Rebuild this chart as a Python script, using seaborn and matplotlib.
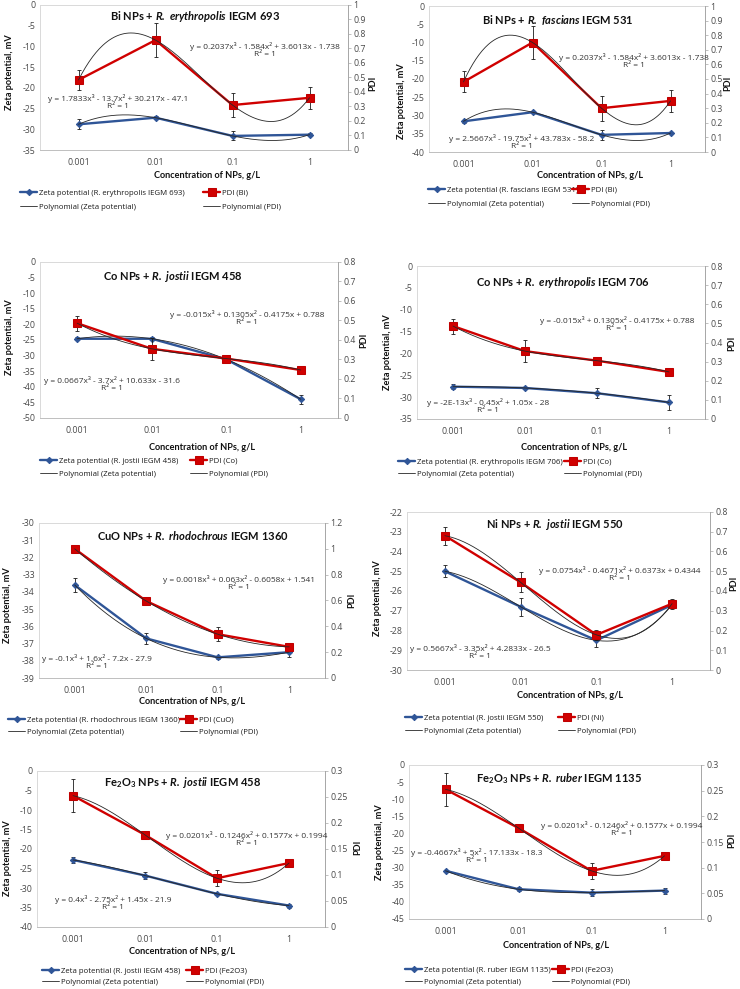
import numpy as np
import matplotlib
matplotlib.use("Agg")
import matplotlib.pyplot as plt
import seaborn as sns

sns.set_theme(style="white")
plt.rcParams['font.family'] = ['Lato', 'DejaVu Sans']
plt.rcParams['mathtext.fontset'] = 'custom'
plt.rcParams['mathtext.rm'] = 'Lato'
plt.rcParams['mathtext.it'] = 'Lato:italic'
plt.rcParams['mathtext.bf'] = 'Lato:bold'
HAS_BFIT = 'mathtext.bfit' in plt.rcParams
if HAS_BFIT:
    plt.rcParams['mathtext.bfit'] = 'Lato:italic:bold'
BFIT = r'\mathbfit' if HAS_BFIT else r'\mathit'
SMALL_FONT = ['Open Sans', 'DejaVu Sans']

# ---------------- data ----------------
conc_labels = ["0.001", "0.01", "0.1", "1"]

bi1_zeta = [-28.8, -27.2, -31.6, -31.3]
bi1_zeta_err = [1.2, 0.3, 1.1, 0.3]
bi1_pdi = [0.483, 0.758, 0.310, 0.360]
bi1_pdi_err = [0.07, 0.115, 0.085, 0.075]

bi2_zeta = [-31.6, -29.1, -35.3, -34.8]
bi2_zeta_err = [0.5, 0.3, 1.4, 0.2]
bi2_pdi = [0.48, 0.75, 0.30, 0.35]
bi2_pdi_err = [0.072, 0.11, 0.085, 0.075]

co1_zeta = [-24.6, -24.6, -31.2, -44.0]
co1_zeta_err = [0.5, 0.5, 1.0, 1.5]
co1_pdi = [0.486, 0.355, 0.305, 0.246]
co1_pdi_err = [0.038, 0.056, 0.02, 0.005]

co2_zeta = [-27.6, -27.9, -29.1, -31.2]
co2_zeta_err = [0.6, 0.3, 1.1, 1.8]
co2_pdi = [0.486, 0.355, 0.305, 0.246]
co2_pdi_err = [0.039, 0.058, 0.01, 0.005]

cuo_zeta = [-33.6, -36.7, -37.8, -37.5]
cuo_zeta_err = [0.4, 0.3, 0.1, 0.3]
cuo_pdi = [1.0, 0.596, 0.339, 0.241]
cuo_pdi_err = [0.0, 0.0, 0.053, 0.01]

ni_zeta = [-25.0, -26.8, -28.5, -26.7]
ni_zeta_err = [0.3, 0.45, 0.35, 0.1]
ni_pdi = [0.68, 0.444, 0.178, 0.336]
ni_pdi_err = [0.045, 0.05, 0.025, 0.025]

fe1_zeta = [-22.8, -26.8, -31.5, -34.5]
fe1_zeta_err = [0.7, 0.8, 0.3, 0.5]
fe1_pdi = [0.2526, 0.1772, 0.0938, 0.123]
fe1_pdi_err = [0.032, 0.002, 0.015, 0.0]

fe2_zeta = [-30.9, -36.3, -37.3, -36.7]
fe2_zeta_err = [0.3, 0.6, 1.1, 0.9]
fe2_pdi = [0.2526, 0.1772, 0.0938, 0.123]
fe2_pdi_err = [0.032, 0.002, 0.015, 0.0]

W, H = 740, 989
fig = plt.figure(figsize=(W / 100, H / 100), dpi=100)
fig.patch.set_facecolor('white')

BLUE = '#2F5597'
RED = '#D00000'
TICKC = '#4a4a4a'
EQC = '#333333'
TXT = '#111111'

FS_TICK = 6.3
FS_EQ = 6.0
FS_LEG = 5.6
FS_TITLE = 8.0
FS_LAB = 6.6


def fx(x):
    return x / W


def fy(y):
    return 1 - y / H


def fmt(v):
    return f"{round(v, 4):g}"


def panel(box, zeta, zeta_err, pdi, pdi_err, zlim, zstep, plim, pstep,
          title, title_xy, zlabel_xy, plabel_xy, xlabel_xy,
          zeq, zeq_xy, peq, peq_xy, zleg, pleg, legx, legy):
    x0, y0, x1, y1 = box
    ax = fig.add_axes([fx(x0), fy(y1), (x1 - x0) / W, (y1 - y0) / H])
    ax2 = ax.twinx()
    pos = np.arange(len(conc_labels))
    dense = np.linspace(0, len(conc_labels) - 1, 200)

    # zeta series
    ax.errorbar(pos, zeta, yerr=zeta_err, fmt='none', ecolor='#1a1a1a',
                elinewidth=0.6, capsize=1.6, capthick=0.6, zorder=3)
    sns.lineplot(x=pos, y=zeta, ax=ax, color=BLUE, linewidth=1.7,
                 marker='D', markersize=3.2, markeredgecolor=BLUE, zorder=4)
    zline = ax.lines[-1]
    zc = np.polyfit(pos, zeta, 3)
    ax.plot(dense, np.polyval(zc, dense), color='#262626', lw=0.6, zorder=5)
    zpoly = ax.lines[-1]

    # PDI series
    ax2.errorbar(pos, pdi, yerr=pdi_err, fmt='none', ecolor='#1a1a1a',
                 elinewidth=0.6, capsize=1.6, capthick=0.6, zorder=3)
    sns.lineplot(x=pos, y=pdi, ax=ax2, color=RED, linewidth=1.7,
                 marker='s', markersize=5.2, markeredgecolor='#C00000', zorder=4)
    pline = ax2.lines[-1]
    pc = np.polyfit(pos, pdi, 3)
    ax2.plot(dense, np.polyval(pc, dense), color='#262626', lw=0.6, zorder=5)
    ppoly = ax2.lines[-1]

    ax.set_xlim(-0.5, len(conc_labels) - 0.5)
    ax.set_xticks(pos)
    ax.set_xticklabels(conc_labels, family=SMALL_FONT)
    ax.set_ylim(*zlim)
    zt = np.arange(zlim[0], zlim[1] + zstep / 2, zstep)
    ax.set_yticks(zt)
    ax.set_yticklabels([fmt(v) for v in zt], family=SMALL_FONT)
    ax2.set_ylim(*plim)
    pt = np.arange(plim[0], plim[1] + pstep / 2, pstep)
    ax2.set_yticks(pt)
    ax2.set_yticklabels([fmt(v) for v in pt], family=SMALL_FONT)
    ax.set_xlabel('')
    ax.set_ylabel('')
    ax2.set_ylabel('')

    ax.tick_params(axis='both', length=0, labelsize=FS_TICK, labelcolor=TICKC, pad=3)
    ax.tick_params(axis='x', pad=6)
    ax2.tick_params(axis='y', length=2, width=0.5, color='#A6A6A6',
                    labelsize=FS_TICK, labelcolor=TICKC, pad=2)
    for s in ['left', 'top']:
        ax.spines[s].set_color('#D9D9D9')
        ax.spines[s].set_linewidth(0.7)
    ax.spines['bottom'].set_color('#BFBFBF')
    ax.spines['bottom'].set_linewidth(0.7)
    ax.spines['right'].set_visible(False)
    for s in ['left', 'top', 'bottom']:
        ax2.spines[s].set_visible(False)
    ax2.spines['right'].set_color('#A6A6A6')
    ax2.spines['right'].set_linewidth(0.7)
    ax.grid(False)
    ax2.grid(False)

    fig.text(fx(title_xy[0]), fy(title_xy[1]), title, ha='center', va='center',
             fontsize=FS_TITLE, fontweight='bold', color=TXT)
    fig.text(fx(zlabel_xy[0]), fy(zlabel_xy[1]), 'Zeta potential, mV',
             rotation=90, ha='center', va='center', fontsize=FS_LAB,
             fontweight='bold', color=TXT)
    if plabel_xy is not None:
        for pxy in plabel_xy:
            fig.text(fx(pxy[0]), fy(pxy[1]), 'PDI', rotation=90, ha='center',
                     va='center', fontsize=FS_LAB, fontweight='bold', color=TXT)
    fig.text(fx(xlabel_xy[0]), fy(xlabel_xy[1]), 'Concentration of NPs, g/L',
             ha='center', va='center', fontsize=FS_LAB, fontweight='bold',
             color=TXT)
    fig.text(fx(zeq_xy[0]), fy(zeq_xy[1]), zeq + '\nR² = 1', ha='center',
             va='center', fontsize=FS_EQ, color=EQC, linespacing=1.1,
             family=SMALL_FONT)
    fig.text(fx(peq_xy[0]), fy(peq_xy[1]), peq + '\nR² = 1', ha='center',
             va='center', fontsize=FS_EQ, color=EQC, linespacing=1.1,
             family=SMALL_FONT)

    common = dict(loc='center left', frameon=False,
                  prop={'family': SMALL_FONT, 'size': FS_LEG},
                  handlelength=2.2, handletextpad=0.2, borderpad=0,
                  borderaxespad=0, labelcolor='#1a1a1a')
    entries = [(zline, zleg, legx[0], legy[0]),
               (zpoly, 'Polynomial (Zeta potential)', legx[0], legy[1]),
               (pline, pleg, legx[1], legy[0]),
               (ppoly, 'Polynomial (PDI)', legx[1], legy[1])]
    for h, lab, lx, ly in entries:
        fig.legend(handles=[h], labels=[lab],
                   bbox_to_anchor=(fx(lx), fy(ly)), **common)


def ttl(prefix, species, strain):
    sp = species.replace(' ', r'\ ')
    return prefix + ' + $' + BFIT + '{' + sp + '}$ ' + strain


FE = r'Fe$_\mathbf{2}$O$_\mathbf{3}$ NPs'

# Panel 1
panel((40, 5, 348, 150), bi1_zeta, bi1_zeta_err, bi1_pdi, bi1_pdi_err,
      (-35, 0), 5, (0, 1), 0.1,
      ttl('Bi NPs', 'R. erythropolis', 'IEGM 693'), (195, 16),
      (10, 72), None, (207, 175),
      'y = 1.7833x³ - 13.7x² + 30.217x - 47.1', (118, 102),
      'y = 0.2037x³ - 1.584x² + 3.6013x - 1.738', (265, 50),
      'Zeta potential (R. erythropolis IEGM 693)', 'PDI (Bi)',
      (20, 203), (193, 207))

# Panel 2
panel((429, 6, 705, 152), bi2_zeta, bi2_zeta_err, bi2_pdi, bi2_pdi_err,
      (-40, 0), 5, (0, 1), 0.1,
      ttl('Bi NPs', 'R. fascians', 'IEGM 531'), (558, 20),
      (402, 101), [(373, 83), (728, 83)], (590, 175),
      'y = 2.5667x³ - 19.75x² + 43.783x - 58.2', (522, 142),
      'y = 0.2037x³ - 1.584x² + 3.6013x - 1.738', (634, 61),
      'Zeta potential (R. fascians IEGM 531)', 'PDI (Bi)',
      (428, 572), (190, 204))

# Panel 3
panel((40, 262, 338, 418), co1_zeta, co1_zeta_err, co1_pdi, co1_pdi_err,
      (-50, 0), 5, (0, 0.8), 0.1,
      ttl('Co NPs', 'R. jostii', 'IEGM 458'), (173, 276),
      (10, 337), [(364, 340)], (202, 447),
      'y = 0.0667x³ - 3.7x² + 10.633x - 31.6', (112, 384),
      'y = -0.015x³ + 0.1305x² - 0.4175x + 0.788', (247, 318),
      'Zeta potential (R. jostii IEGM 458)', 'PDI (Co)',
      (40, 190), (461, 474))

# Panel 4
panel((417, 266, 705, 419), co2_zeta, co2_zeta_err, co2_pdi, co2_pdi_err,
      (-35, 0), 5, (0, 0.8), 0.1,
      ttl('Co NPs', 'R. erythropolis', 'IEGM 706'), (563, 282),
      (388, 352), [(732, 343)], (574, 447),
      'y = -2E-13x³ - 0.45x² + 1.05x - 28', (488, 406),
      'y = -0.015x³ + 0.1305x² - 0.4175x + 0.788', (617, 324),
      'Zeta potential (R. erythropolis IEGM 706)', 'PDI (Co)',
      (398, 564), (462, 474))

# Panel 5
panel((39, 523, 325, 678), cuo_zeta, cuo_zeta_err, cuo_pdi, cuo_pdi_err,
      (-39, -30), 1, (0, 1.2), 0.2,
      ttl('CuO NPs', 'R. rhodochrous', 'IEGM 1360'), (193, 536),
      (8, 605), [(352, 600)], (192, 702),
      'y = -0.1x³ + 1.6x² - 7.2x - 27.9', (97, 662),
      'y = 0.0018x³ + 0.063x² - 0.6058x + 1.541', (239, 583),
      'Zeta potential (R. rhodochrous IEGM 1360)', 'PDI (CuO)',
      (8, 180), (720, 732))

# Panel 6
panel((407, 512, 710, 670), ni_zeta, ni_zeta_err, ni_pdi, ni_pdi_err,
      (-30, -22), 1, (0, 0.8), 0.1,
      ttl('Ni NPs', 'R. jostii', 'IEGM 550'), (555, 525),
      (377, 598), [(734, 583)], (570, 696),
      'y = 0.5667x³ - 3.35x² + 4.2833x - 26.5', (480, 652),
      'y = 0.0754x³ - 0.4671x² + 0.6373x + 0.4344', (620, 574),
      'Zeta potential (R. jostii IEGM 550)', 'PDI (Ni)',
      (405, 558), (718, 731))

# Panel 7
panel((37, 771, 325, 927), fe1_zeta, fe1_zeta_err, fe1_pdi, fe1_pdi_err,
      (-40, 0), 5, (0, 0.3), 0.05,
      ttl(FE, 'R. jostii', 'IEGM 458'), (183, 783),
      (8, 858), [(358, 847)], (182, 952),
      'y = 0.4x³ - 2.75x² + 1.45x - 21.9', (113, 903),
      'y = 0.0201x³ - 0.1246x² + 0.1577x + 0.1994', (247, 839),
      'Zeta potential (R. jostii IEGM 458)', 'PDI (Fe2O3)',
      (42, 186), (971, 982))

# Panel 8
panel((409, 765, 701, 919), fe2_zeta, fe2_zeta_err, fe2_pdi, fe2_pdi_err,
      (-45, 0), 5, (0, 0.3), 0.05,
      ttl(FE, 'R. ruber', 'IEGM 1135'), (559, 779),
      (380, 842), [(732, 840)], (556, 945),
      'y = -0.4667x³ + 5x² - 17.133x - 18.3', (477, 856),
      'y = 0.0201x³ - 0.1246x² + 0.1577x + 0.1994', (622, 829),
      'Zeta potential (R. ruber IEGM 1135)', 'PDI (Fe2O3)',
      (405, 552), (970, 982))

fig.savefig('out.png', dpi=100, facecolor='white')
